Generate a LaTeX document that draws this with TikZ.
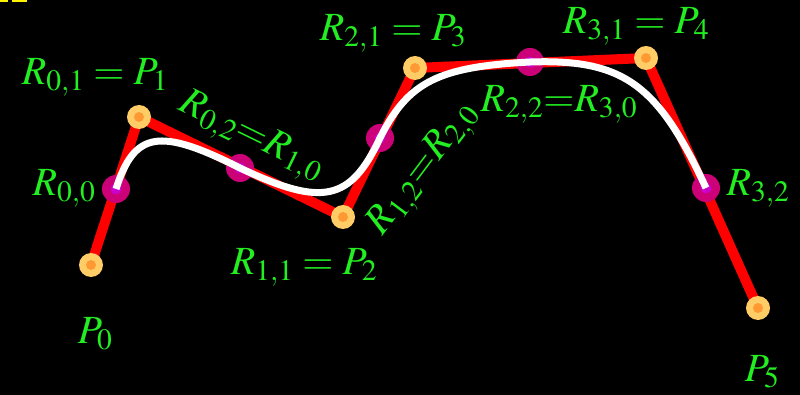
\documentclass[tikz,border=0pt]{standalone}
\usepackage{mathptmx}
\usetikzlibrary{calc}
\definecolor{lbl}{HTML}{22EE22}
\definecolor{ptout}{HTML}{FFCC66}
\definecolor{ptin}{HTML}{FF9933}
\definecolor{mgout}{HTML}{CC0077}
\definecolor{mgin}{HTML}{CC00CC}
\tikzset{
  redline/.style={draw=red,line width=10pt,line join=miter},
  curveline/.style={draw=white,line width=7pt},
  ctrldot/.style={circle,fill=ptout,minimum size=24pt,inner sep=0pt,path picture={\fill[ptin] (path picture bounding box.center) circle (5pt);}},
  middot/.style={circle,fill=mgout,minimum size=28pt,inner sep=0pt,path picture={\fill[mgin] (path picture bounding box.center) circle (5.5pt);}},
  lab/.style={text=lbl,font=\fontsize{40}{48}\selectfont,inner sep=0pt}
}
\begin{document}
\begin{tikzpicture}[x=1pt,y=-1pt]
\fill[black] (0,0) rectangle (800,395);
\useasboundingbox (0,0) rectangle (800,395);
% yellow fragments at top-left
\fill[yellow] (0,0) rectangle (8,2.5);
\fill[yellow] (12,0) rectangle (27,2.5);
% control points
\coordinate (P0) at (91,265);
\coordinate (P1) at (139,117);
\coordinate (P2) at (343,217);
\coordinate (P3) at (415,68);
\coordinate (P4) at (646,58);
\coordinate (P5) at (758,308);
% midpoints
\coordinate (R00) at (116,189);
\coordinate (R02) at (240,168);
\coordinate (R12) at (380,138);
\coordinate (R22) at (530,62);
\coordinate (R32) at (706,188);
% control polygon
\draw[redline] (P0) -- (P1) -- (P2) -- (P3) -- (P4) -- (P5);
% midpoint dots
\node[middot] (m0) at (R00) {};
\node[middot] (m1) at (R02) {};
\node[middot] (m2) at (R12) {};
\node[middot] (m3) at (R22) {};
\node[middot] (m4) at (R32) {};
% smooth curve through the midpoints
\draw[curveline] (R00)
  .. controls ($(R00)!0.8!(P1)$) and ($(R02)!0.8!(P1)$) .. (R02)
  .. controls ($(R02)!0.8!(P2)$) and ($(R12)!0.8!(P2)$) .. (R12)
  .. controls ($(R12)!0.8!(P3)$) and ($(R22)!0.8!(P3)$) .. (R22)
  .. controls ($(R22)!0.8!(P4)$) and ($(R32)!0.8!(P4)$) .. (R32);
% control dots
\node[ctrldot] (c0) at (P0) {};
\node[ctrldot] (c1) at (P1) {};
\node[ctrldot] (c2) at (P2) {};
\node[ctrldot] (c3) at (P3) {};
\node[ctrldot] (c4) at (P4) {};
\node[ctrldot] (c5) at (P5) {};
% labels
\node[lab] (l1) at (95,77) {$R_{0,1} = P_1$};
\node[lab] (l2) at (64,188) {$R_{0,0}$};
\node[lab] (l3) at (95,334) {$P_0$};
\node[lab,rotate=-26] (l4) at (251,137) {$R_{0,2}{=}R_{1,0}$};
\node[lab] (l5) at (304,267) {$R_{1,1} = P_2$};
\node[lab,rotate=53] (l6) at (424,170) {$R_{1,2}{=}R_{2,0}$};
\node[lab] (l7) at (393,33) {$R_{2,1} = P_3$};
\node[lab] (l8) at (559,104) {$R_{2,2}{=}R_{3,0}$};
\node[lab] (l9) at (636,26) {$R_{3,1} = P_4$};
\node[lab] (l10) at (758,188) {$R_{3,2}$};
\node[lab] (l11) at (762,372) {$P_5$};
\end{tikzpicture}
\end{document}
